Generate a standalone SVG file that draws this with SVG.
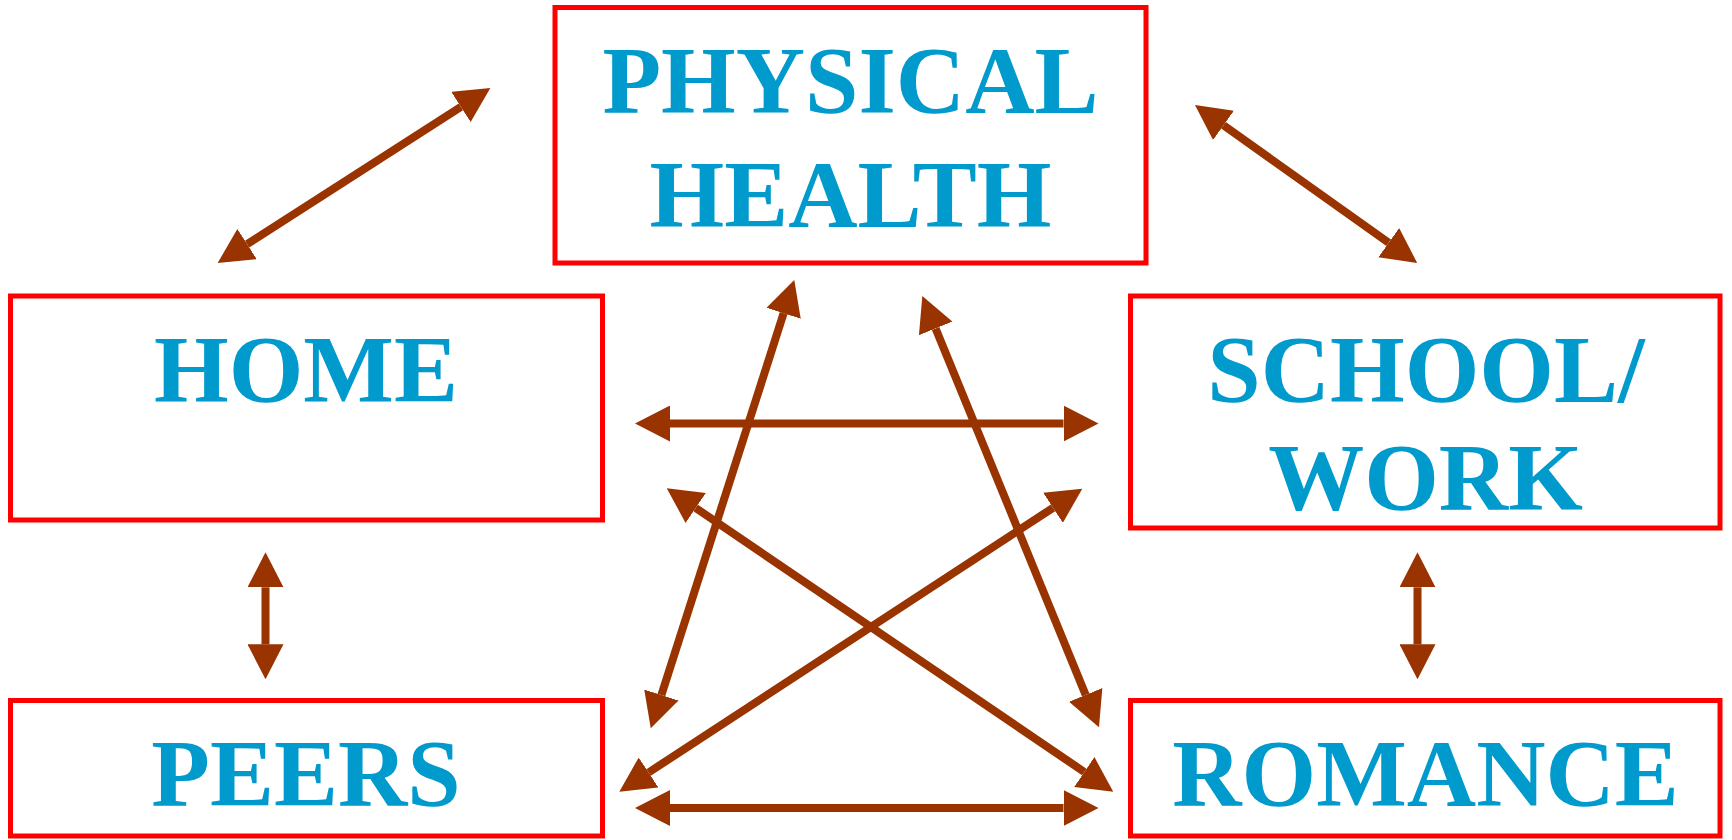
<svg xmlns="http://www.w3.org/2000/svg" width="1732" height="840" viewBox="0 0 1732 840">
<style>
.box{fill:#fff;stroke:#ff0000;stroke-width:5}
.lbl{font-family:"Liberation Serif","Times New Roman",serif;font-weight:bold;font-size:96px;fill:#009ACD;text-anchor:middle}
.arr{stroke:#993300;stroke-width:8;fill:none;marker-start:url(#ah);marker-end:url(#ah)}
</style>
<defs>
<marker id="ah" markerUnits="userSpaceOnUse" viewBox="0 0 35 36" markerWidth="35" markerHeight="36" refX="0" refY="18" orient="auto-start-reverse">
<path d="M0,0 L35,18 L0,36 Z" fill="#993300"/>
</marker>
</defs>
<rect width="1732" height="840" fill="#fff"/>
<g id="physical-health">
<rect class="box" x="555" y="7.5" width="591" height="255.5"/>
<text class="lbl" x="850.5" y="112.5">PHYSICAL</text>
<text class="lbl" x="850.5" y="226.5">HEALTH</text>
</g>
<g id="home">
<rect class="box" x="10.5" y="296" width="592" height="224"/>
<text class="lbl" x="306" y="401.5">HOME</text>
</g>
<g id="school-work">
<rect class="box" x="1130.5" y="296" width="589.5" height="232"/>
<text class="lbl" x="1426" y="401.5">SCHOOL/</text>
<text class="lbl" x="1425.5" y="510">WORK</text>
</g>
<g id="peers">
<rect class="box" x="10.5" y="700.5" width="592" height="135.5"/>
<text class="lbl" x="306" y="805.5">PEERS</text>
</g>
<g id="romance">
<rect class="box" x="1130.5" y="700.5" width="589.5" height="135.5"/>
<text class="lbl" x="1425.5" y="805.5">ROMANCE</text>
</g>
<g id="connectors">
<line class="arr" x1="670" y1="423.5" x2="1063.5" y2="423.5"/>
<line class="arr" x1="670" y1="808" x2="1063.5" y2="808"/>
<line class="arr" x1="265.5" y1="587.3" x2="265.5" y2="644.3"/>
<line class="arr" x1="1417.5" y1="587.3" x2="1417.5" y2="644.3"/>
<line class="arr" x1="783.6" y1="313.3" x2="661.4" y2="695"/>
<line class="arr" x1="935.6" y1="328.4" x2="1085.7" y2="694.9"/>
<line class="arr" x1="695.7" y1="508" x2="1084.3" y2="772"/>
<line class="arr" x1="1053" y1="507.8" x2="648.6" y2="772.5"/>
<line class="arr" x1="247.1" y1="244.1" x2="460.9" y2="106.9"/>
<line class="arr" x1="1223.5" y1="125.3" x2="1388.7" y2="242.7"/>
</g>
</svg>
